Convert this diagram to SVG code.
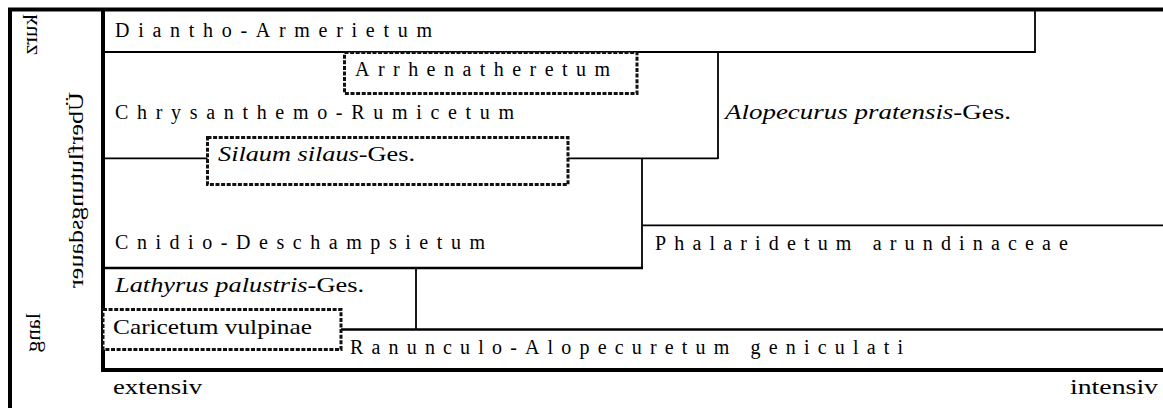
<svg xmlns="http://www.w3.org/2000/svg" width="1163" height="408" viewBox="0 0 1163 408">
  <style>
    .t { font-family: "Liberation Serif", "Times New Roman", serif; font-size: 21px; fill: #000; }
    .sp { font-family: "Liberation Serif", "Times New Roman", serif; font-size: 20px; fill: #000; }
    .it { font-style: italic; }
    .frame { stroke: #000; stroke-width: 4; fill: none; }
    .ln { stroke: #000; stroke-width: 1.8; fill: none; }
    .lnb { stroke: #000; stroke-width: 2.6; fill: none; }
    .dash { stroke: #111; stroke-width: 3; stroke-dasharray: 4 1.6; fill: #fff; }
  </style>
  <rect width="1163" height="408" fill="#fff"/>

  <!-- axes frame -->
  <g id="frame">
    <line class="frame" x1="8" y1="9.5" x2="1163" y2="9.5"/>
    <line class="frame" x1="10" y1="8" x2="10" y2="408"/>
    <line class="frame" x1="103" y1="8" x2="103" y2="372"/>
    <line class="frame" x1="101" y1="370" x2="1163" y2="370"/>
  </g>

  <!-- boundaries between communities -->
  <g id="connectors">
    <line class="ln" x1="103" y1="52" x2="1035" y2="52"/>
    <line class="ln" x1="1035" y1="9" x2="1035" y2="53"/>
    <line class="ln" x1="718" y1="52" x2="718" y2="159"/>
    <line class="ln" x1="103" y1="158.3" x2="718" y2="158.3"/>
    <line class="ln" x1="642" y1="158" x2="642" y2="269"/>
    <line class="lnb" x1="103" y1="268" x2="643" y2="268"/>
    <line class="ln" x1="642" y1="225.3" x2="1163" y2="225.3"/>
    <line class="ln" x1="416" y1="268" x2="416" y2="330"/>
    <line class="lnb" x1="341" y1="329.5" x2="1163" y2="329.5"/>
  </g>

  <g id="diantho-armerietum">
    <text class="sp" x="115" y="37" textLength="317" lengthAdjust="spacing">Diantho-Armerietum</text>
  </g>
  <g id="arrhenatheretum">
    <rect class="dash" x="344.5" y="52.5" width="292.5" height="41"/>
    <text class="sp" x="355" y="76" textLength="255" lengthAdjust="spacing">Arrhenatheretum</text>
  </g>
  <g id="chrysanthemo-rumicetum">
    <text class="sp" x="115" y="119" textLength="399" lengthAdjust="spacing">Chrysanthemo-Rumicetum</text>
  </g>
  <g id="silaum-silaus">
    <rect class="dash" x="207.5" y="137.5" width="360.5" height="47"/>
    <text class="t" x="218" y="161" textLength="197" lengthAdjust="spacingAndGlyphs"><tspan class="it">Silaum silaus</tspan>-Ges.</text>
  </g>
  <g id="alopecurus-pratensis">
    <text class="t" x="725" y="119" textLength="286" lengthAdjust="spacingAndGlyphs"><tspan class="it">Alopecurus pratensis</tspan>-Ges.</text>
  </g>
  <g id="cnidio-deschampsietum">
    <text class="sp" x="115" y="249" textLength="370" lengthAdjust="spacing">Cnidio-Deschampsietum</text>
  </g>
  <g id="phalaridetum">
    <text class="sp" x="655" y="250" textLength="413" lengthAdjust="spacing">Phalaridetum arundinaceae</text>
  </g>
  <g id="lathyrus-palustris">
    <text class="t" x="115" y="292" textLength="249" lengthAdjust="spacingAndGlyphs"><tspan class="it">Lathyrus palustris</tspan>-Ges.</text>
  </g>
  <g id="caricetum-vulpinae">
    <rect class="dash" x="103" y="309.5" width="238" height="40"/>
    <text class="t" x="113" y="334" textLength="199" lengthAdjust="spacingAndGlyphs">Caricetum vulpinae</text>
  </g>
  <g id="ranunculo-alopecuretum">
    <text class="sp" x="350" y="354" textLength="553" lengthAdjust="spacing">Ranunculo-Alopecuretum geniculati</text>
  </g>

  <!-- axis labels -->
  <g id="axis-x">
    <text class="t" x="113" y="394" textLength="89" lengthAdjust="spacingAndGlyphs">extensiv</text>
    <text class="t" x="1070" y="394" textLength="88" lengthAdjust="spacingAndGlyphs">intensiv</text>
  </g>
  <g id="axis-y">
    <text class="t" transform="matrix(0,1,1,0,37,14)" textLength="41" lengthAdjust="spacingAndGlyphs">kurz</text>
    <text class="t" transform="matrix(0,1,1,0,83,92)" textLength="196" lengthAdjust="spacingAndGlyphs">Überflutungsdauer</text>
    <text class="t" transform="matrix(0,1,1,0,40,313)" textLength="39" lengthAdjust="spacingAndGlyphs">lang</text>
  </g>
</svg>
